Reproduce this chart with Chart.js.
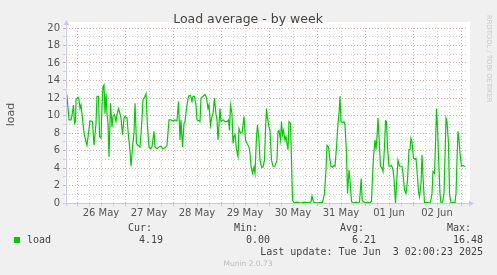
<!DOCTYPE html>
<html>
<head>
<meta charset="utf-8">
<script src="https://cdn.jsdelivr.net/npm/chart.js@4.4.1/dist/chart.umd.min.js"></script>
<style>
  html, body { margin: 0; padding: 0; background: #f0f0f0; }
  canvas { display: block; }
</style>
</head>
<body>
<canvas id="myChart" width="497" height="275"></canvas>
<script>
// hours since 26 May 00:00
const hours = [
  -5.5, -5, -4, -3, -2.5, -1.75, -1.25, -0.75, -0.5, 0.5, 1, 1.5, 2, 2.75, 3.5, 4.5, 5, 5.75,
  6.5, 7.75, 8.5, 9.5, 10, 10.75, 11.25, 12, 12.5, 13, 13.5, 14, 14.5, 15, 15.5, 16, 16.75,
  17.5, 18, 18.75, 19.5, 20, 20.75, 21.5, 22, 22.75, 23.5, 24, 25, 25.75, 26.5, 27, 27.75,
  28.5, 29, 29.75, 30.5, 31.5, 32.25, 33, 34, 34.5, 35.25, 36, 36.75, 37.5, 38.5, 39, 40,
  41, 42, 43, 44, 45, 46, 47, 48, 49, 50, 50.75, 51.5, 52, 52.75, 53.5, 54, 54.75, 55.75,
  56.75, 57.5, 58, 58.75, 59.5, 60, 61, 61.5, 62, 63, 64, 64.75, 65.5, 66, 66.75, 67.5,
  68, 68.75, 69.5, 70, 70.5, 71.5, 72, 73, 74, 75, 75.75, 76.25, 76.75, 77.5, 78, 78.5,
  79, 79.75, 80.5, 81, 81.75, 82.5, 83, 83.5, 84.25, 85, 86, 86.5, 87, 87.75, 88.5, 89,
  89.75, 90.25, 91, 91.5, 92.25, 93, 93.75, 94.25, 94.75, 95.25, 96, 96.5, 97.25, 98, 99,
  100, 100.5, 101, 101.75, 102.25, 102.75, 103.25, 104, 104.5, 105, 105.5, 106, 106.75,
  107.25, 107.75, 108.5, 110, 112, 113.5, 115.5, 117, 117.5, 118.25, 119.5, 121, 122.75,
  123.75, 124.5, 125, 125.75, 126.5, 127, 127.75, 128.5, 129, 129.75, 130.5, 131, 131.5,
  132, 132.75, 133.5, 134, 134.75, 135.25, 136, 136.5, 137.25, 138.5, 139.5, 140.5,
  141.25, 141.75, 142.1, 142.6, 143.5, 144.5, 145.5, 146.5, 147.25, 147.75, 148.25, 149,
  149.5, 150, 150.5, 151, 151.75, 152.5, 153, 153.75, 154.25, 154.75, 155.25, 156, 156.5,
  157.25, 158, 158.5, 159.25, 160, 160.5, 161.25, 162, 162.5, 163, 163.75, 164.5, 165.25,
  166, 166.5, 167, 167.5, 168.25, 169, 169.5, 170.25, 170.75, 171.25, 172, 172.5, 173,
  173.75, 174.75, 175.75, 176.75, 177.5, 178, 178.75, 179.25, 179.75, 180.25, 180.75,
  181.5, 182, 182.75, 183.5, 184, 184.5, 185, 185.75, 186.25, 187, 188, 189, 189.5, 190,
  190.5, 191, 191.5, 192.25, 193, 193.5, 194.25
];
const load = [
  12.0, 12.2, 9.5, 9.5, 10.0, 11.2, 9.1, 9.3, 11.8, 12.1, 11.8, 10.8, 11.2, 9.7, 8.0, 7.0, 6.6, 8.0,
  9.4, 9.3, 6.6, 9.1, 12.2, 12.2, 7.6, 7.4, 11.0, 13.3, 13.5, 10.2, 12.5, 10.2, 9.1, 5.3, 11.4,
  8.7, 9.9, 10.1, 9.3, 10.1, 10.8, 10.2, 9.7, 7.8, 9.7, 9.9, 9.7, 7.6, 6.0, 4.2, 6.4,
  8.0, 11.4, 6.8, 6.6, 6.4, 8.7, 11.8, 12.2, 12.5, 8.7, 6.4, 6.2, 6.4, 8.2, 6.4, 6.2,
  6.4, 6.5, 6.2, 6.3, 6.6, 9.5, 9.5, 9.4, 9.5, 9.4, 11.6, 7.2, 9.5, 6.4, 9.1, 9.3, 10.8, 12.2,
  12.3, 11.6, 12.2, 12.2, 11.2, 9.5, 9.4, 9.3, 12.0, 12.2, 12.4, 12.0, 10.8, 11.2, 8.9, 9.9,
  10.2, 12.0, 10.1, 9.5, 7.2, 10.8, 9.3, 9.5, 9.3, 9.3, 9.5, 8.3, 11.2, 10.2, 6.8, 7.6,
  7.8, 6.1, 5.3, 8.5, 8.0, 8.0, 8.9, 9.9, 7.2, 6.8, 6.4, 5.7, 4.2, 3.4, 4.1, 3.4,
  7.6, 8.9, 7.2, 4.9, 4.1, 4.1, 4.9, 8.3, 10.8, 9.7, 8.7, 8.3, 4.9, 4.2, 4.2,
  4.9, 8.2, 8.3, 7.2, 9.3, 7.8, 8.3, 7.2, 7.6, 6.8, 6.1, 9.3, 9.1,
  4.9, 0.3, 0.05, 0.1, 0, 0.1, 0.05, 0.1, 0.8, 0.1, 0, 0.05, 0.05,
  1.1, 3.8, 6.6, 6.4, 4.9, 4.2, 4.1, 4.3, 4.2, 6.4, 9.1, 10.2, 12.2,
  9.3, 9.2, 9.3, 8.9, 5.7, 1.1, 3.8, 2.6, 0.15, 0, 0.1, 0,
  0.1, 1.7, 2.8, 0.3, 0.1, 0, 0.1, 0, 0.2, 3.0, 5.3, 7.2,
  6.1, 7.6, 9.7, 7.6, 4.2, 4.0, 3.6, 6.4, 9.4, 9.3, 6.4, 4.2, 4.2,
  4.3, 3.8, 2.8, 0, 3.0, 4.9, 4.2, 4.2, 4.2, 3.4, 1.5, 1.1, 2.6,
  6.1, 6.1, 7.4, 7.0, 5.1, 5.0, 5.1, 3.0, 1.3, 0.7, 2.2, 5.5, 3.0,
  0, 0.1, 0, 0.1, 1.1, 3.6, 3.4, 6.8, 10.8, 8.7, 5.3,
  1.1, 0, 0, 1.1, 5.3, 9.7, 9.3, 6.8, 1.1, 0, 0.1, 0, 1.1, 4.9,
  8.2, 7.2, 5.7, 4.2, 4.3, 4.2, 4.2
];
const dayLabels = ['26 May', '27 May', '28 May', '29 May', '30 May', '31 May', '01 Jun', '02 Jun'];
const yTicks = [0, 2, 4, 6, 8, 10, 12, 14, 16, 18, 20];
const statNames = ['Cur:', 'Min:', 'Avg:', 'Max:'];
const statValues = ['4.19', '0.00', '6.21', '16.48'];

const RED_GRID = 'rgba(225,160,160,0.9)';
const GRAY_GRID = 'rgba(205,205,205,0.9)';
const AXIS = '#c8c8f0';

const munin = {
    id: 'munin',
    beforeDraw(chart) {
        const c = chart.ctx, a = chart.chartArea;
        c.save();
        c.fillStyle = '#f0f0f0';
        c.fillRect(0, 0, chart.width, chart.height);
        c.fillStyle = '#ffffff';
        c.fillRect(a.left - 1, a.top - 6, a.right - a.left + 5, a.bottom - a.top + 6);
        c.restore();
    },
    afterDraw(chart) {
        const c = chart.ctx, a = chart.chartArea;
        c.save();
        // axes with arrows
        c.strokeStyle = AXIS;
        c.fillStyle = AXIS;
        c.lineWidth = 1;
        c.beginPath();
        c.moveTo(a.left - 3, a.bottom + 0.5);
        c.lineTo(a.right + 4, a.bottom + 0.5);
        c.moveTo(a.left + 0.5, a.bottom + 3);
        c.lineTo(a.left + 0.5, a.top - 3);
        c.stroke();
        c.beginPath();
        c.moveTo(a.right + 8, a.bottom + 0.5);
        c.lineTo(a.right + 3, a.bottom - 2.5);
        c.lineTo(a.right + 3, a.bottom + 3.5);
        c.fill();
        c.beginPath();
        c.moveTo(a.left + 0.5, a.top - 8);
        c.lineTo(a.left - 2.5, a.top - 3);
        c.lineTo(a.left + 3.5, a.top - 3);
        c.fill();

        // title
        c.fillStyle = '#444';
        c.font = '12.5px "DejaVu Sans"';
        c.textAlign = 'center';
        c.textBaseline = 'alphabetic';
        c.fillText('Load average - by week', 248, 23);

        // y title
        c.save();
        c.translate(11, 114.5);
        c.rotate(-Math.PI / 2);
        c.font = '11px "DejaVu Sans"';
        c.fillStyle = '#555';
        c.textBaseline = 'middle';
        c.fillText('load', 0, 0);
        c.restore();

        // rrdtool credit
        c.save();
        c.translate(488.5, 15);
        c.rotate(Math.PI / 2);
        c.font = '6.8px "DejaVu Sans"';
        c.fillStyle = '#c8c8c8';
        c.textAlign = 'left';
        c.textBaseline = 'middle';
        c.fillText('RRDTOOL / TOBI OETIKER', 0, 0);
        c.restore();

        // legend
        c.fillStyle = '#00cc00';
        c.fillRect(14, 237, 6, 6);
        c.font = '10px "DejaVu Sans Mono"';
        c.fillStyle = '#444';
        c.textAlign = 'left';
        c.textBaseline = 'middle';
        c.fillText('load', 27, 240);
        const nameX = [128, 234, 340, 447];
        const valRight = [163, 270, 376, 483];
        statNames.forEach((n, i) => c.fillText(n, nameX[i], 228));
        c.textAlign = 'right';
        statValues.forEach((v, i) => c.fillText(v, valRight[i], 240));
        c.fillText('Last update: Tue Jun  3 02:00:23 2025', 483, 252);

        c.textAlign = 'center';
        c.font = '7.5px "DejaVu Sans"';
        c.fillStyle = '#bbbbbb';
        c.fillText('Munin 2.0.73', 248, 264);
        c.restore();
    }
};

const ctx = document.getElementById('myChart').getContext('2d');
new Chart(ctx, {
    type: 'line',
    data: {
        datasets: [{
            label: 'load',
            data: hours.map((h, i) => ({ x: h, y: load[i] })),
            borderColor: '#00cc00',
            borderWidth: 1.2,
            pointRadius: 0,
            tension: 0,
            fill: false
        }]
    },
    options: {
        responsive: false,
        animation: false,
        devicePixelRatio: 1,
        layout: { padding: { left: 0, right: 31, top: 28, bottom: 0 } },
        plugins: { legend: { display: false }, title: { display: false }, tooltip: { enabled: false } },
        scales: {
            x: {
                type: 'linear',
                min: -5.5,
                max: 194.5,
                afterFit: s => { s.height = 72; },
                border: { display: false, dash: [1, 2] },
                grid: {
                    color: c => (c.tick && c.tick.value % 24 === 0) ? RED_GRID : GRAY_GRID,
                    lineWidth: 1,
                    drawTicks: true,
                    tickLength: 3
                },
                ticks: {
                    stepSize: 6,
                    includeBounds: false,
                    autoSkip: false,
                    maxRotation: 0,
                    padding: 1,
                    color: '#555',
                    font: { family: 'DejaVu Sans', size: 10 },
                    callback: v => (v % 24 === 12) ? (dayLabels[(v - 12) / 24] || '') : ''
                }
            },
            y: {
                min: 0,
                max: 20,
                afterFit: s => { s.width = 66; },
                border: { display: false, dash: [1, 2] },
                grid: {
                    color: c => (c.tick && c.tick.value % 2 === 0) ? RED_GRID : GRAY_GRID,
                    lineWidth: 1,
                    drawTicks: true,
                    tickLength: 3
                },
                ticks: {
                    stepSize: 1,
                    autoSkip: false,
                    padding: 3,
                    color: '#555',
                    font: { family: 'DejaVu Sans', size: 10 },
                    callback: v => yTicks.includes(v) ? String(v) : ''
                }
            }
        }
    },
    plugins: [munin]
});
</script>
</body>
</html>
